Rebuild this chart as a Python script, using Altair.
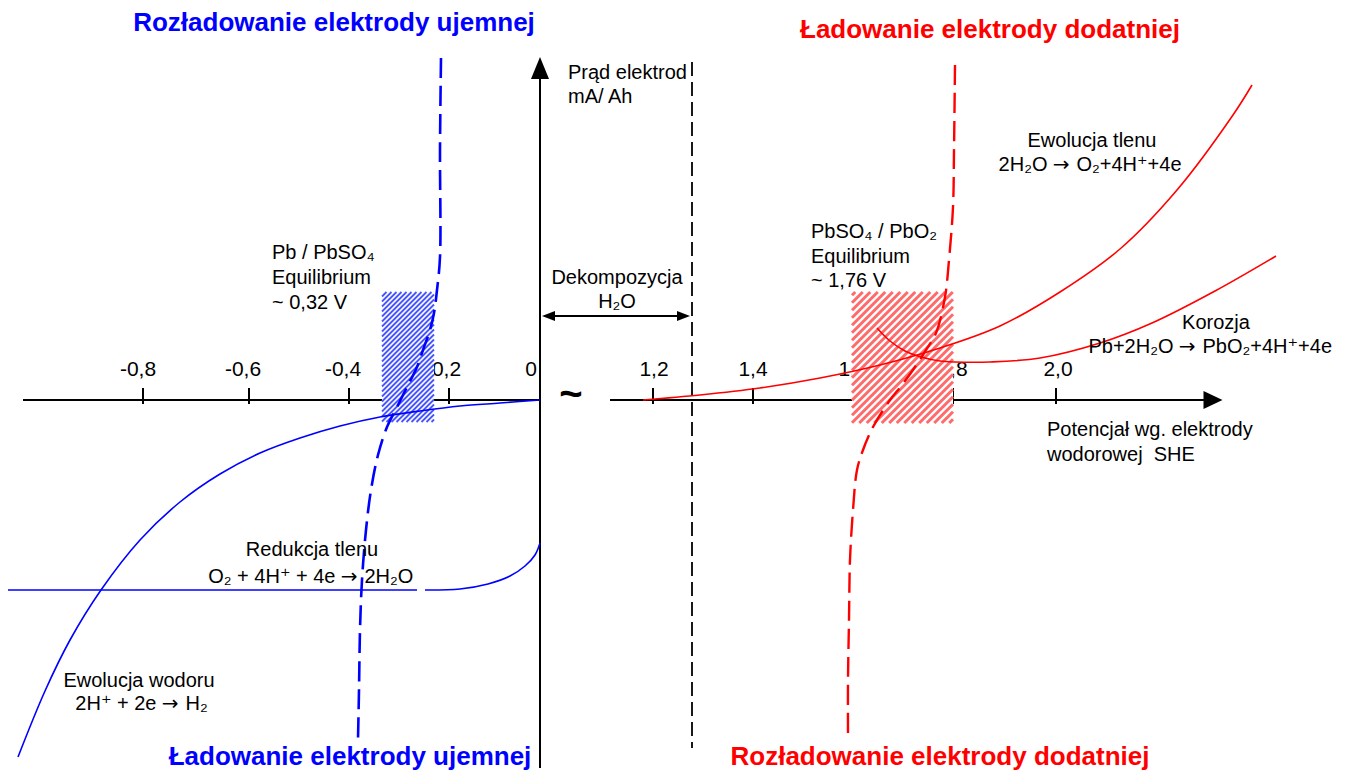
import altair as alt
import pandas as pd

# ---- diagram units: 1 unit = 0.2 V on the potential axis (with a break at "~"),
#      current axis in arbitrary mA/Ah units --------------------------------------
X_DOMAIN = [-5.32, 8.09]
Y_DOMAIN = [-3.66, 3.92]
W, H = 1341, 758
FONT = "Liberation Sans, Arial, DejaVu Sans, sans-serif"
ARROW_FONT = "DejaVu Sans, sans-serif"

# Negative electrode (Pb / PbSO4) polarisation curve – dashed blue
neg_x = [-0.99, -1.00, -1.00, -1.03, -1.06, -1.10, -1.17, -1.23, -1.33, -1.43, -1.53,
         -1.62, -1.69, -1.74, -1.78, -1.80, -1.81, -1.82]
neg_y = [3.42, 2.50, 1.43, 1.10, 0.87, 0.70, 0.50, 0.33, 0.13, -0.07, -0.27,
         -0.55, -0.90, -1.30, -1.80, -2.30, -2.90, -3.40]

# Hydrogen evolution – solid blue
h2_x = [0, -0.4, -0.8, -1.2, -1.6, -2.0, -2.4, -2.8, -3.2, -3.6, -4.0, -4.39,
        -4.7, -4.95, -5.22]
h2_y = [0, -0.03, -0.06, -0.11, -0.17, -0.26, -0.38, -0.53, -0.74, -1.02, -1.40,
        -1.90, -2.40, -2.91, -3.57]

# Oxygen reduction – solid blue (flat part + rising part)
o2red_flat_x = [-5.32, -1.23]
o2red_flat_y = [-1.90, -1.90]
o2red_x = [-1.15, -0.80, -0.52, -0.30, -0.15, -0.05, 0.0]
o2red_y = [-1.90, -1.89, -1.84, -1.76, -1.66, -1.55, -1.43]

# Oxygen evolution – solid red
o2ev_x = [1.03, 1.60, 2.20, 2.80, 3.40, 4.00, 4.60, 5.20, 5.80, 6.37, 6.93, 7.12]
o2ev_y = [0.0, 0.05, 0.12, 0.22, 0.35, 0.52, 0.74, 1.08, 1.51, 2.10, 2.85, 3.15]

# Grid corrosion – solid red
cor_x = [3.37, 3.50, 3.65, 3.81, 4.00, 4.15, 4.50, 5.00, 5.60, 6.12, 6.75, 7.36]
cor_y = [0.72, 0.59, 0.49, 0.43, 0.39, 0.38, 0.38, 0.42, 0.57, 0.77, 1.09, 1.44]

# Positive electrode (PbSO4 / PbO2) polarisation curve – dashed red
pos_x = [4.15, 4.14, 4.13, 4.09, 4.05, 3.96, 3.86, 3.75, 3.62, 3.50, 3.33, 3.23,
         3.17, 3.13, 3.10, 3.09, 3.08, 3.08]
pos_y = [3.35, 2.50, 1.93, 1.40, 1.03, 0.67, 0.50, 0.33, 0.15, 0.0, -0.27, -0.50,
         -0.70, -1.10, -1.60, -2.20, -2.80, -3.35]

# Potential axis ticks
tick_pos = [-3.97, -2.91, -1.91, -0.91, 1.13, 2.13, 3.13, 4.13, 5.16]
tick_lab_text = ["-0,8", "-0,6", "-0,4", "-0,2", "0", "1,2", "1,4", "1,6", "1,8", "2,0"]
tick_lab_x = [-4.02, -2.97, -1.97, -0.97, -0.09, 1.14, 2.13, 3.13, 4.13, 5.18]
tick_lab_y = 0.30

# Equilibrium windows (hatched)
blue_win = (-1.58, -1.06, -0.22, 1.08)
red_win = (3.12, 4.13, -0.23, 1.08)

# Water decomposition window limit
h2o_limit_x = 1.52

# Reaction formulas: left side, arrow position, right side
form_left = ["2H₂O", "Pb+2H₂O", "O₂ + 4H⁺ + 4e", "2H⁺ + 2e"]
form_right = ["O₂+4H⁺+4e", "PbO₂+4H⁺+4e", "2H₂O", "H₂"]
form_arrow_x = [5.21, 6.47, -1.91, -3.70]
form_y = [2.35, 0.53, -1.77, -3.04]

xs = alt.Scale(domain=X_DOMAIN, nice=False, zero=False)
ys = alt.Scale(domain=Y_DOMAIN, nice=False, zero=False)


def X(f="x"):
    return alt.X(f"{f}:Q", scale=xs, axis=None)


def Y(f="y"):
    return alt.Y(f"{f}:Q", scale=ys, axis=None)


def curve(xv, yv, color, width, dash=None, interp="catmull-rom"):
    df = pd.DataFrame({"x": xv, "y": yv, "i": list(range(len(xv)))})
    kw = dict(color=color, strokeWidth=width, interpolate=interp, clip=False)
    if dash:
        kw["strokeDash"] = dash
    return alt.Chart(df).mark_line(**kw).encode(x=X(), y=Y(), order=alt.Order("i:Q"))


def rules(df, color, width, dash=None):
    kw = dict(color=color, strokeWidth=width, strokeCap="butt")
    if dash:
        kw["strokeDash"] = dash
    return alt.Chart(df).mark_rule(**kw).encode(
        x=X(), y=Y(), x2=alt.X2("x2"), y2=alt.Y2("y2"))


def stripes(win, step):
    x0, x1, y0, y1 = win
    rows = []
    c = y0 - x1 + step / 2
    while c < y1 - x0:
        xa = max(x0, y0 - c)
        xb = min(x1, y1 - c)
        if xb > xa:
            rows.append(dict(x=xa, y=xa + c, x2=xb, y2=xb + c))
        c += step
    return pd.DataFrame(rows)


def texts(df, size=20, align="center", font=FONT, weight="normal"):
    return alt.Chart(df).mark_text(
        font=font, fontSize=size, color="black", baseline="middle", align=align,
        fontWeight=weight).encode(x=X(), y=Y(), text="t:N")


# ---------------- layers ----------------
tick_labels = texts(pd.DataFrame({
    "x": tick_lab_x, "y": [tick_lab_y] * len(tick_lab_x), "t": tick_lab_text}), size=21)

axes_df = pd.DataFrame([
    dict(x=-5.17, y=0, x2=0, y2=0),          # left part of potential axis
    dict(x=0.70, y=0, x2=6.66, y2=0),        # right part of potential axis
    dict(x=0, y=-3.68, x2=0, y2=3.25),       # current axis
    dict(x=0.05, y=0.84, x2=1.40, y2=0.84),  # double arrow shaft
])
ticks_df = pd.DataFrame({"x": tick_pos, "x2": tick_pos,
                         "y": [0.12] * len(tick_pos), "y2": [-0.04] * len(tick_pos)})
axes = rules(axes_df, "black", 2)
ticks = rules(ticks_df, "black", 2)
h2o_line = rules(pd.DataFrame([dict(x=h2o_limit_x, y=3.38, x2=h2o_limit_x, y2=-3.48)]),
                 "black", 1.8, dash=[14, 6])

tilde = texts(pd.DataFrame({"x": [0.31], "y": [0.05], "t": ["~"]}), size=40,
              weight="bold")

win_df = pd.DataFrame([
    dict(x=blue_win[0], x2=blue_win[1], y=blue_win[2], y2=blue_win[3]),
    dict(x=red_win[0], x2=red_win[1], y=red_win[2], y2=red_win[3]),
])
win_bg = alt.Chart(win_df).mark_rect(color="white", opacity=1).encode(
    x=X(), x2=alt.X2("x2"), y=Y(), y2=alt.Y2("y2"))
blue_hatch = rules(stripes(blue_win, 0.05), "#4655ff", 1.8)
red_hatch = rules(stripes(red_win, 0.075), "#ff6a6a", 3.0)

neg_curve = curve(neg_x, neg_y, "#0000ff", 2.6, dash=[20, 8])
h2_curve = curve(h2_x, h2_y, "#0000ff", 1.6)
o2red_flat = curve(o2red_flat_x, o2red_flat_y, "#0000ff", 1.6, interp="linear")
o2red_curve = curve(o2red_x, o2red_y, "#0000ff", 1.6)
o2ev_curve = curve(o2ev_x, o2ev_y, "#ff0000", 1.6)
cor_curve = curve(cor_x, cor_y, "#ff0000", 1.6)
pos_curve = curve(pos_x, pos_y, "#ff0000", 2.4, dash=[20, 8])

heads_df = pd.DataFrame([
    dict(x=0.0, y=3.32, s=484, shape="M0,-1L0.82,1L-0.82,1Z"),
    dict(x=6.73, y=0.0, s=361, shape="M1,0L-1,-0.95L-1,0.95Z"),
    dict(x=0.085, y=0.84, s=169, shape="M-1,0L1,-0.77L1,0.77Z"),
    dict(x=1.435, y=0.84, s=169, shape="M1,0L-1,-0.77L-1,0.77Z"),
])
heads = alt.Chart(heads_df).mark_point(filled=True, opacity=1, color="black",
                                       strokeWidth=0).encode(
    x=X(), y=Y(), size=alt.Size("s:Q", scale=None),
    shape=alt.Shape("shape:N", scale=None))

titles_df = pd.DataFrame([
    dict(x=-2.06, y=3.77, t="Rozładowanie elektrody ujemnej", c="#0000ff"),
    dict(x=4.50, y=3.70, t="Ładowanie elektrody dodatniej", c="#ff0000"),
    dict(x=-1.90, y=-3.57, t="Ładowanie elektrody ujemnej", c="#0000ff"),
    dict(x=4.00, y=-3.57, t="Rozładowanie elektrody dodatniej", c="#ff0000"),
])
titles = alt.Chart(titles_df).mark_text(
    font=FONT, fontSize=26, fontWeight="bold", baseline="middle").encode(
    x=X(), y=Y(), text="t:N", color=alt.Color("c:N", scale=None))

center_txt = texts(pd.DataFrame([
    dict(x=0.77, y=1.22, t="Dekompozycja"),
    dict(x=0.77, y=0.98, t="H₂O"),
    dict(x=5.52, y=2.59, t="Ewolucja tlenu"),
    dict(x=6.76, y=0.77, t="Korozja"),
    dict(x=-2.28, y=-1.50, t="Redukcja tlenu"),
    dict(x=-4.01, y=-2.81, t="Ewolucja wodoru"),
]))

left_txt = texts(pd.DataFrame([
    dict(x=0.28, y=3.27, t="Prąd elektrod"),
    dict(x=0.28, y=3.03, t="mA/ Ah"),
    dict(x=-2.68, y=1.47, t="Pb / PbSO₄"),
    dict(x=-2.68, y=1.22, t="Equilibrium"),
    dict(x=-2.68, y=0.97, t="~ 0,32 V"),
    dict(x=2.71, y=1.68, t="PbSO₄ / PbO₂"),
    dict(x=2.71, y=1.43, t="Equilibrium"),
    dict(x=2.71, y=1.19, t="~ 1,76 V"),
    dict(x=5.07, y=-0.30, t="Potencjał wg. elektrody"),
    dict(x=5.07, y=-0.55, t="wodorowej\u00a0\u00a0SHE"),
]), align="left")

form_l = texts(pd.DataFrame({"x": [a - 0.135 for a in form_arrow_x], "y": form_y,
                             "t": form_left}), align="right")
form_r = texts(pd.DataFrame({"x": [a + 0.155 for a in form_arrow_x], "y": form_y,
                             "t": form_right}), align="left")
form_a = texts(pd.DataFrame({"x": form_arrow_x, "y": form_y,
                             "t": ["→"] * len(form_y)}), font=ARROW_FONT, size=20)

chart = alt.layer(
    tick_labels, axes, ticks, h2o_line, tilde,
    win_bg, blue_hatch, red_hatch,
    o2red_flat, o2red_curve, h2_curve, neg_curve,
    o2ev_curve, cor_curve, pos_curve,
    heads, titles, center_txt, left_txt, form_l, form_a, form_r,
).properties(
    width=W, height=H, background="white",
    padding={"left": 0, "top": 0, "right": 0, "bottom": 8},
    autosize=alt.AutoSizeParams(type="none"),
).configure_view(stroke=None)

chart.save("out.html", embed_options={"renderer": "svg", "actions": False})
